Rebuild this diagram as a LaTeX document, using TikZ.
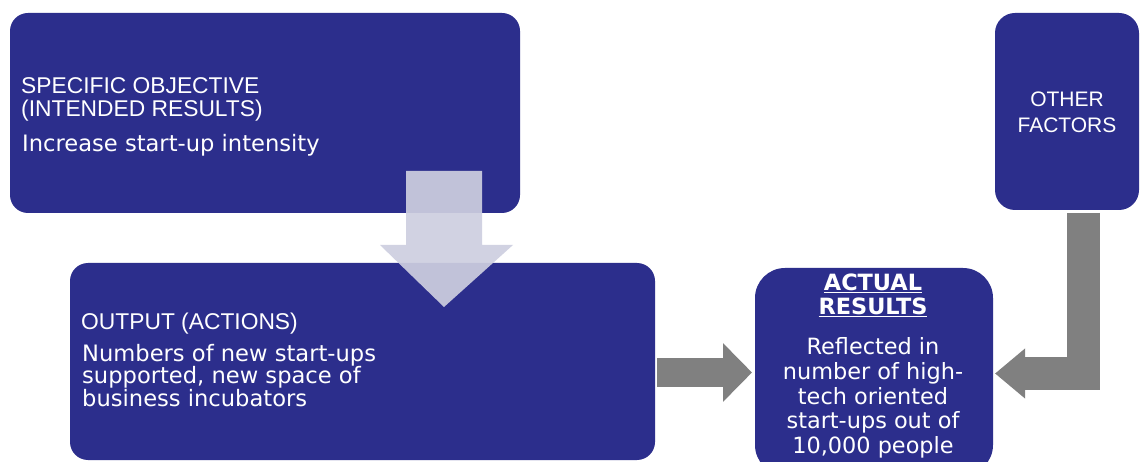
\documentclass[tikz,border=0pt]{standalone}
\usepackage{fontspec}
\setmainfont{DejaVu Sans}
\newfontfamily\headfont{Liberation Sans}
\usetikzlibrary{arrows.meta}
\definecolor{navy}{RGB}{44,46,140}
\definecolor{garrowc}{RGB}{128,128,128}
\definecolor{larrowc}{RGB}{206,207,224}
\tikzset{
  box/.style={fill=navy, draw=none, rounded corners=#1, inner sep=0pt},
  box/.default=18pt,
  headtxt/.style={text=white, inner sep=0pt, anchor=base west, font=\headfont\fontsize{22.8}{26}\selectfont},
  bodytxt/.style={text=white, inner sep=0pt, anchor=base west, font=\fontsize{22.6}{26}\selectfont},
  ctrtxt/.style={text=white, inner sep=0pt, anchor=base, font=\fontsize{22.4}{26}\selectfont},
  boldtxt/.style={ctrtxt, font=\bfseries\fontsize{22.4}{26}\selectfont},
  othtxt/.style={text=white, inner sep=0pt, anchor=base, font=\headfont\fontsize{21}{24}\selectfont},
  garrow/.style={draw=garrowc, line width=#1, line cap=butt, line join=miter},
}
\begin{document}
\begin{tikzpicture}[x=1pt,y=-1pt]
\useasboundingbox (0,0) rectangle (1141,462);
\clip (0,0) rectangle (1141,462);
\fill[white] (0,0) rectangle (1141,462);
% boxes
\path[box] (10,13) rectangle (520,213);
\node (obj) at (265,113) {};
\path[box] (70,263) rectangle (655,460);
\node (out) at (362.5,361.5) {};
\path[box=30pt] (755,268) rectangle (993,475);
\node (act) at (874,371) {};
\path[box=20pt] (995,13) rectangle (1139,210);
\node (oth) at (1067,111.5) {};
% texts
\node[headtxt] (t1) at (21,94) {SPECIFIC OBJECTIVE};
\node[headtxt] (t2) at (21,117) {(INTENDED RESULTS)};
\node[bodytxt] (t3) at (22,151.5) {Increase start-up intensity};
\node[headtxt] (t4) at (81,330) {OUTPUT (ACTIONS)};
\node[bodytxt] (t5) at (82,361.5) {Numbers of new start-ups};
\node[bodytxt] (t6) at (82,384) {supported, new space of};
\node[bodytxt] (t7) at (82,406.5) {business incubators};
\node[boldtxt] (t8) at (873,290.5) {\underline{ACTUAL}};
\node[boldtxt] (t9) at (873,314.5) {\underline{RESULTS}};
\node[ctrtxt] (t10) at (873,355) {Reflected in};
\node[ctrtxt] (t11) at (873,379.5) {number of high-};
\node[ctrtxt] (t12) at (873,404) {tech oriented};
\node[ctrtxt] (t13) at (873,428.5) {start-ups out of};
\node[ctrtxt] (t14) at (873,453) {10,000 people};
\node[othtxt] (t15) at (1067,107) {OTHER};
\node[othtxt] (t16) at (1067,133) {FACTORS};
% arrows
\coordinate (d0) at (444,171);
\coordinate (d1) at (444,307);
\fill[larrowc, opacity=0.92] ([xshift=-38pt]d0) -- ([xshift=38pt]d0) -- ([xshift=38pt]d0 |- 0,245) -- ([xshift=69pt]d0 |- 0,245) -- (d1) -- ([xshift=-64pt]d0 |- 0,245) -- ([xshift=-38pt]d0 |- 0,245) -- cycle;
\coordinate (r0) at (657,372.5);
\coordinate (r1) at (752,372.5);
\draw[garrow=29pt, -{Triangle[length=29pt,width=57pt]}] (r0) -- (r1);
\coordinate (b0) at (1083.5,213);
\coordinate (b1) at (995,373.5);
\draw[garrow=33pt, -{Triangle[length=30pt,width=48pt]}] (b0) |- (b1);
\end{tikzpicture}
\end{document}
